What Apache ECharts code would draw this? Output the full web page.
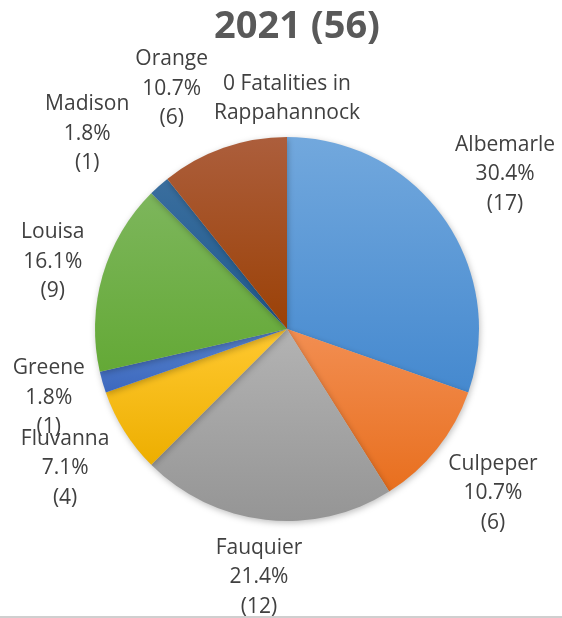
<!DOCTYPE html>
<html>
<head>
<meta charset="utf-8">
<title>2021 (56)</title>
<script src="https://cdn.jsdelivr.net/npm/echarts@6/dist/echarts.min.js"></script>
<style>
  html, body { margin: 0; padding: 0; background: #fff; }
  #chart { width: 562px; height: 618px; }
</style>
</head>
<body>
<div id="chart"></div>
<script>
// data
const counties = ['Albemarle', 'Culpeper', 'Fauquier', 'Fluvanna', 'Greene', 'Louisa', 'Madison', 'Orange', 'Rappahannock'];
const fatalities = [17, 6, 12, 4, 1, 9, 1, 6, 0];
const titleText = '2021 (56)';

// office-like palette, light top -> base bottom
const topColors = ['#72A8DD', '#F28E52', '#B3B3B3', '#FFC930', '#5783CC', '#7DB65C', '#3A6E9E', '#AC5E3C', '#777777'];
const baseColors = ['#4589CF', '#E86F1E', '#959595', '#EDAE00', '#3C68BE', '#64A936', '#1F5A8E', '#9B4106', '#636363'];

const total = fatalities.reduce((a, b) => a + b, 0);
const CX = 287, CY = 329, R = 192, GAP = 9;
const FONT = 'Open Sans', FONT_SIZE = 21, LINE_H = 29.5;

function labelText(name, v) {
  if (v === 0) return '0 Fatalities in\n' + name;
  return name + '\n' + (v / total * 100).toFixed(1) + '%\n(' + v + ')';
}

// place each label out along its slice's mid angle, like excel does
const ctx = document.createElement('canvas').getContext('2d');
ctx.font = FONT_SIZE + 'px "' + FONT + '"';
const boxes = [];
let acc = 0;
fatalities.forEach((v, i) => {
  const a = (acc + v / 2) / total * 2 * Math.PI;
  acc += v;
  const lines = labelText(counties[i], v).split('\n');
  const w = Math.max(...lines.map(l => ctx.measureText(l).width));
  const h = lines.length * LINE_H;
  const s = Math.sin(a), c = Math.cos(a);
  const d = R + GAP + Math.abs(s) * w / 2 + Math.abs(c) * h / 2;
  boxes.push({ x: CX + s * d, y: CY - c * d, w: w, h: h });
});
// push labels sideways when they sit on top of each other
for (let k = 0; k < 10; k++) {
  for (let i = 0; i < boxes.length; i++) {
    for (let j = 0; j < boxes.length; j++) {
      if (i === j) continue;
      const A = boxes[i], B = boxes[j];
      const oy = Math.min(A.y + A.h / 2, B.y + B.h / 2) - Math.max(A.y - A.h / 2, B.y - B.h / 2);
      const ox = Math.min(A.x + A.w / 2, B.x + B.w / 2) - Math.max(A.x - A.w / 2, B.x - B.w / 2);
      if (ox <= 0 || oy < 0.4 * Math.min(A.h, B.h)) continue;
      if (Math.abs(A.x - CX) < Math.abs(B.x - CX)) continue;
      A.x += (A.x < CX ? -1 : 1) * (ox + 6);
    }
  }
}

const myChart = echarts.init(document.getElementById('chart'));
const option = {
  backgroundColor: '#fff',
  animation: false,
  title: {
    text: titleText,
    left: 209,
    top: 3,
    textStyle: { fontFamily: FONT, fontSize: 38, fontWeight: 'bold', color: '#595959' }
  },
  graphic: [{
    type: 'rect',
    shape: { x: 0, y: 616, width: 562, height: 2 },
    style: { fill: '#cfcfcf' },
    silent: true
  }],
  series: [{
    type: 'pie',
    center: [CX, CY],
    radius: R,
    startAngle: 90,
    clockwise: true,
    avoidLabelOverlap: false,
    minShowLabelAngle: 0,
    data: counties.map((name, i) => ({
      name: name,
      value: fatalities[i],
      itemStyle: {
        color: new echarts.graphic.LinearGradient(0, 0, 0, 1, [
          { offset: 0, color: topColors[i] },
          { offset: 1, color: baseColors[i] }
        ])
      }
    })),
    itemStyle: {
      shadowBlur: 6,
      shadowOffsetX: 1,
      shadowOffsetY: 2,
      shadowColor: 'rgba(0,0,0,0.25)'
    },
    label: {
      show: true,
      position: 'outside',
      fontFamily: FONT,
      fontSize: FONT_SIZE,
      lineHeight: LINE_H,
      color: '#404040',
      formatter: p => labelText(p.name, p.value)
    },
    labelLine: { show: false },
    labelLayout: params => {
      const b = boxes[params.dataIndex];
      return { x: b.x, y: b.y, align: 'center', verticalAlign: 'middle' };
    },
    emphasis: { disabled: true }
  }]
};
myChart.setOption(option);
</script>
</body>
</html>
